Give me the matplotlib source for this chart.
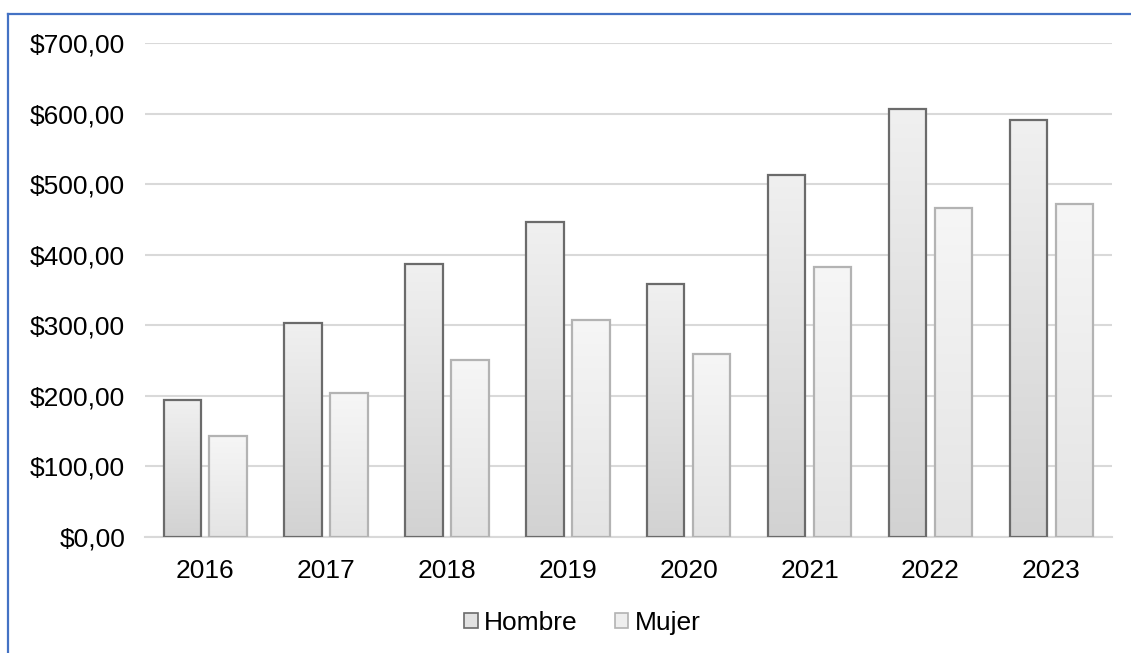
import matplotlib.pyplot as plt
import numpy as np
from matplotlib.patches import Patch
from matplotlib.lines import Line2D
from matplotlib.ticker import FuncFormatter

years = ['2016', '2017', '2018', '2019', '2020', '2021', '2022', '2023']
hombre = [194, 303, 387, 446, 358, 513, 606, 591]
mujer = [143, 204, 251, 307, 259, 383, 466, 472]

plt.rcParams['font.family'] = ['Liberation Sans', 'DejaVu Sans']

fig = plt.figure(figsize=(11.31, 6.53), dpi=100)
ax = fig.add_axes([0.128, 0.1777, 0.855, 0.7565])

x = np.arange(len(years))
w = 0.31
off = 0.19

b1 = ax.bar(x - off, hombre, w, facecolor='none', edgecolor='#6b6b6b', linewidth=1.6, zorder=3)
b2 = ax.bar(x + off, mujer, w, facecolor='none', edgecolor='#b3b3b3', linewidth=1.6, zorder=3)

# vertical gradient fill clipped to each bar
def fill_grad(bars, top, bottom):
    grad = np.linspace(0, 1, 256).reshape(-1, 1)
    c_top = np.array(top) / 255.0
    c_bot = np.array(bottom) / 255.0
    img = c_top + grad[..., None] * (c_bot - c_top)
    img = np.repeat(img, 2, axis=1)
    for b in bars:
        x0, y0 = b.get_x(), b.get_y()
        im = ax.imshow(img, extent=[x0, x0 + b.get_width(), y0, y0 + b.get_height()],
                       aspect='auto', origin='upper', zorder=2)
        im.set_clip_path(b)

fill_grad(b1, (240, 240, 240), (210, 210, 210))
fill_grad(b2, (246, 246, 246), (228, 228, 228))

ax.set_xlim(-0.5, len(years) - 0.5)
ax.set_ylim(0, 700)
ax.set_yticks(range(0, 701, 100))
ax.yaxis.set_major_formatter(FuncFormatter(lambda v, p: '${:d},00'.format(int(v))))
ax.set_xticks(x)
ax.set_xticklabels(years)
ax.grid(axis='y', color='#d9d9d9', linewidth=1.5, zorder=0)
ax.set_axisbelow(True)
for s in ['top', 'right', 'left']:
    ax.spines[s].set_visible(False)
ax.spines['bottom'].set_color('#d9d9d9')
ax.spines['bottom'].set_linewidth(1.5)
ax.tick_params(axis='both', length=0, labelsize=19, colors='black')
ax.tick_params(axis='y', pad=14)
ax.tick_params(axis='x', pad=16)

handles = [Patch(facecolor='#e2e2e2', edgecolor='#6b6b6b', linewidth=1.2),
           Patch(facecolor='#eeeeee', edgecolor='#b3b3b3', linewidth=1.2)]
fig.legend(handles, ['Hombre', 'Mujer'], loc='center', bbox_to_anchor=(0.515, 0.046),
           ncol=2, frameon=False, fontsize=19, handlelength=0.5, handleheight=0.5,
           handletextpad=0.25, columnspacing=1.4)

# blue chart border (left and top visible)
fig.add_artist(Line2D([8 / 1131, 1], [1 - 14 / 653, 1 - 14 / 653], color='#4472c4', linewidth=1.6))
fig.add_artist(Line2D([8 / 1131, 8 / 1131], [0, 1 - 14 / 653], color='#4472c4', linewidth=1.6))

fig.savefig('out.png', dpi=100)
